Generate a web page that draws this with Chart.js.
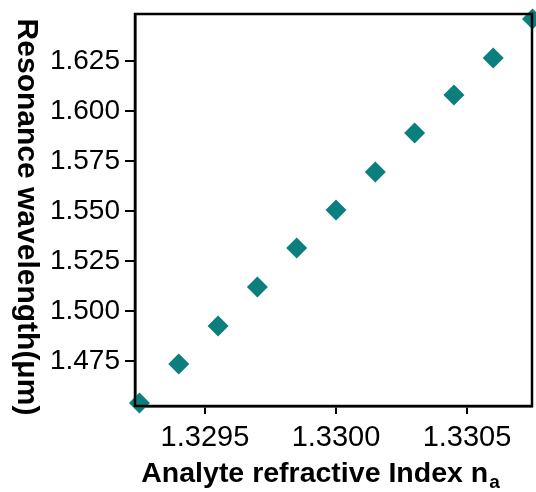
<!DOCTYPE html>
<html>
<head>
<meta charset="utf-8">
<script src="https://cdn.jsdelivr.net/npm/chart.js@4"></script>
<style>
  html, body { margin: 0; padding: 0; background: #fff; }
  #wrap { width: 536px; height: 492px; }
</style>
</head>
<body>
<div id="wrap"><canvas id="chart" width="536" height="492"></canvas></div>
<script>
// --- DATA ---
const indexValues = [1.32925, 1.3294, 1.32955, 1.3297, 1.32985, 1.3300, 1.33015, 1.3303, 1.33045, 1.3306, 1.33075];
const wavelengths = [1.454, 1.4735, 1.4925, 1.512, 1.5315, 1.5505, 1.5695, 1.589, 1.608, 1.6265, 1.646];
const xTicks = [1.3295, 1.3300, 1.3305];
const yTicks = [1.475, 1.500, 1.525, 1.550, 1.575, 1.600, 1.625];
const xTitle = "Analyte refractive Index n";
const xTitleSub = "a";
const yTitle = "Resonance wavelength(\u03bcm)";

const FONT = "'Liberation Sans', Arial, sans-serif";
const TEAL = "#0b7f7e";

// frame + axis titles
const frameAndTitles = {
  id: "frameAndTitles",
  afterDraw(chart) {
    const { ctx, chartArea: a } = chart;
    ctx.save();
    ctx.strokeStyle = "#000";
    ctx.lineWidth = 2.5;
    ctx.strokeRect(a.left, a.top, a.right - a.left, a.bottom - a.top);

    ctx.fillStyle = "#000";
    // x title with subscript
    ctx.font = "bold 28.5px " + FONT;
    const mainW = ctx.measureText(xTitle).width;
    ctx.font = "bold 19px " + FONT;
    const subW = ctx.measureText(xTitleSub).width;
    const startX = 320 - (mainW + subW) / 2;
    ctx.textBaseline = "alphabetic";
    ctx.textAlign = "left";
    ctx.font = "bold 28.5px " + FONT;
    ctx.fillText(xTitle, startX, 482);
    ctx.font = "bold 19px " + FONT;
    ctx.fillText(xTitleSub, startX + mainW + 1, 488);

    // y title, rotated clockwise
    ctx.translate(26, 217);
    ctx.rotate(Math.PI / 2);
    ctx.font = "bold 30px " + FONT;
    ctx.textAlign = "center";
    ctx.textBaseline = "middle";
    ctx.fillText(yTitle, 0, 0);
    ctx.restore();
  }
};

function noPad(scale) {
  scale.paddingTop = 0;
  scale.paddingBottom = 0;
  scale.paddingLeft = 0;
  scale.paddingRight = 0;
}

new Chart(document.getElementById("chart"), {
  type: "scatter",
  data: {
    datasets: [{
      data: indexValues.map((x, i) => ({ x: x, y: wavelengths[i] })),
      pointStyle: "rectRot",
      pointRadius: 10.5,
      pointHoverRadius: 10.5,
      backgroundColor: TEAL,
      borderColor: TEAL,
      borderWidth: 0,
      clip: false
    }]
  },
  options: {
    responsive: false,
    animation: false,
    events: [],
    layout: { autoPadding: false, padding: { top: 14, right: 4, left: 0, bottom: 0 } },
    plugins: { legend: { display: false }, tooltip: { enabled: false } },
    scales: {
      x: {
        type: "linear",
        min: 1.329233,
        max: 1.330748,
        afterFit(scale) { scale.height = 86; noPad(scale); },
        afterBuildTicks(scale) { scale.ticks = xTicks.map(v => ({ value: v })); },
        grid: { drawOnChartArea: false, color: "#000", tickColor: "#000", tickLength: 8, lineWidth: 2 },
        border: { color: "#000", width: 2.5 },
        ticks: {
          color: "#000",
          font: { family: FONT, size: 29 },
          padding: 7,
          maxRotation: 0,
          callback: v => v.toFixed(4)
        }
      },
      y: {
        type: "linear",
        min: 1.4525,
        max: 1.6485,
        afterFit(scale) { scale.width = 135; noPad(scale); },
        afterBuildTicks(scale) { scale.ticks = yTicks.map(v => ({ value: v })); },
        grid: { drawOnChartArea: false, color: "#000", tickColor: "#000", tickLength: 10, lineWidth: 2 },
        border: { color: "#000", width: 2.5 },
        ticks: {
          color: "#000",
          font: { family: FONT, size: 28 },
          padding: 5,
          callback: v => v.toFixed(3)
        }
      }
    }
  },
  plugins: [frameAndTitles]
});
</script>
</body>
</html>
